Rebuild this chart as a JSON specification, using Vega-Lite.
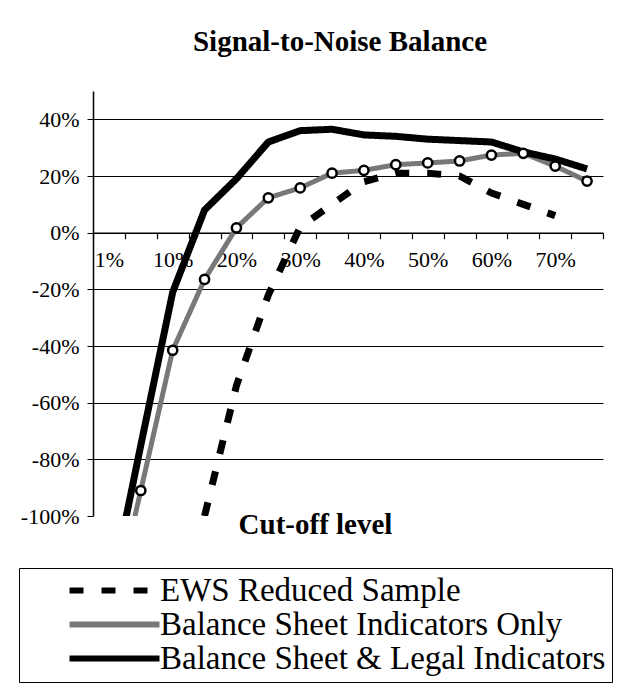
{
  "$schema": "https://vega.github.io/schema/vega-lite/v6.json",
  "width": 510,
  "height": 425,
  "autosize": {"type": "none"},
  "padding": {"left": 93, "top": 91, "right": 18, "bottom": 167},
  "background": "white",
  "config": {
    "font": "Liberation Serif",
    "view": {"stroke": null}
  },
  "title": {
    "text": "Signal-to-Noise Balance",
    "font": "Liberation Serif",
    "fontSize": 29,
    "fontWeight": "bold",
    "color": "black",
    "anchor": "middle",
    "frame": "group",
    "baseline": "alphabetic",
    "offset": 11,
    "dx": -8
  },
  "data": {
    "values": [
      {"cut": 15, "series": "EWS Reduced Sample", "value": -100},
      {"cut": 20, "series": "EWS Reduced Sample", "value": -54},
      {"cut": 25, "series": "EWS Reduced Sample", "value": -22},
      {"cut": 30, "series": "EWS Reduced Sample", "value": 2},
      {"cut": 35, "series": "EWS Reduced Sample", "value": 10},
      {"cut": 40, "series": "EWS Reduced Sample", "value": 18},
      {"cut": 45, "series": "EWS Reduced Sample", "value": 21},
      {"cut": 50, "series": "EWS Reduced Sample", "value": 21},
      {"cut": 55, "series": "EWS Reduced Sample", "value": 20},
      {"cut": 60, "series": "EWS Reduced Sample", "value": 14},
      {"cut": 65, "series": "EWS Reduced Sample", "value": 10},
      {"cut": 70, "series": "EWS Reduced Sample", "value": 6},
      {"cut": 1, "series": "Balance Sheet Indicators Only", "value": -140},
      {"cut": 5, "series": "Balance Sheet Indicators Only", "value": -91},
      {"cut": 10, "series": "Balance Sheet Indicators Only", "value": -41.5},
      {"cut": 15, "series": "Balance Sheet Indicators Only", "value": -16.5},
      {"cut": 20, "series": "Balance Sheet Indicators Only", "value": 1.7},
      {"cut": 25, "series": "Balance Sheet Indicators Only", "value": 12.3},
      {"cut": 30, "series": "Balance Sheet Indicators Only", "value": 15.8},
      {"cut": 35, "series": "Balance Sheet Indicators Only", "value": 21},
      {"cut": 40, "series": "Balance Sheet Indicators Only", "value": 22},
      {"cut": 45, "series": "Balance Sheet Indicators Only", "value": 24},
      {"cut": 50, "series": "Balance Sheet Indicators Only", "value": 24.6},
      {"cut": 55, "series": "Balance Sheet Indicators Only", "value": 25.3},
      {"cut": 60, "series": "Balance Sheet Indicators Only", "value": 27.4},
      {"cut": 65, "series": "Balance Sheet Indicators Only", "value": 28},
      {"cut": 70, "series": "Balance Sheet Indicators Only", "value": 23.5},
      {"cut": 75, "series": "Balance Sheet Indicators Only", "value": 18.2},
      {"cut": 1, "series": "Balance Sheet & Legal Indicators", "value": -130},
      {"cut": 5, "series": "Balance Sheet & Legal Indicators", "value": -75},
      {"cut": 10, "series": "Balance Sheet & Legal Indicators", "value": -21},
      {"cut": 15, "series": "Balance Sheet & Legal Indicators", "value": 8},
      {"cut": 20, "series": "Balance Sheet & Legal Indicators", "value": 19},
      {"cut": 25, "series": "Balance Sheet & Legal Indicators", "value": 32},
      {"cut": 30, "series": "Balance Sheet & Legal Indicators", "value": 36},
      {"cut": 35, "series": "Balance Sheet & Legal Indicators", "value": 36.5},
      {"cut": 40, "series": "Balance Sheet & Legal Indicators", "value": 34.5},
      {"cut": 45, "series": "Balance Sheet & Legal Indicators", "value": 34},
      {"cut": 50, "series": "Balance Sheet & Legal Indicators", "value": 33},
      {"cut": 55, "series": "Balance Sheet & Legal Indicators", "value": 32.5},
      {"cut": 60, "series": "Balance Sheet & Legal Indicators", "value": 32},
      {"cut": 65, "series": "Balance Sheet & Legal Indicators", "value": 28.5},
      {"cut": 70, "series": "Balance Sheet & Legal Indicators", "value": 26},
      {"cut": 75, "series": "Balance Sheet & Legal Indicators", "value": 22.5}
    ]
  },
  "encoding": {
    "x": {
      "field": "cut",
      "type": "ordinal",
      "scale": {"type": "band", "paddingInner": 0, "paddingOuter": 0, "domain": [1,5,10,15,20,25,30,35,40,45,50,55,60,65,70,75]},
      "axis": {
        "orient": "bottom",
        "offset": -283.3,
        "grid": false,
        "domain": true,
        "domainColor": "black",
        "domainWidth": 1.5,
        "tickBand": "extent",
        "tickExtra": true,
        "tickColor": "black",
        "tickSize": 6,
        "tickWidth": 1.2,
        "labelAngle": 0,
        "labelFont": "Liberation Serif",
        "labelFontSize": 22,
        "labelColor": "black",
        "labelPadding": 11,
        "labelExpr": "(datum.value == 1 || datum.value % 10 == 0) ? datum.value + '%' : ''",
        "title": "Cut-off level",
        "titleFont": "Liberation Serif",
        "titleFontSize": 29,
        "titleFontWeight": "bold",
        "titleColor": "black",
        "titleBaseline": "middle",
        "titleAlign": "center",
        "titleX": 222,
        "titleY": 292
      }
    },
    "y": {
      "field": "value",
      "type": "quantitative",
      "scale": {"domain": [-100, 50], "nice": false, "zero": false},
      "axis": {
        "values": [-100, -80, -60, -40, -20, 0, 20, 40],
        "grid": true,
        "gridColor": {"condition": {"test": "datum.value == -100 || datum.value == 0", "value": "transparent"}, "value": "black"},
        "gridWidth": 1,
        "gridOpacity": 1,
        "domainColor": "black",
        "domainWidth": 1.5,
        "tickColor": "black",
        "tickSize": 6,
        "labelFont": "Liberation Serif",
        "labelFontSize": 22,
        "labelColor": "black",
        "labelPadding": 8,
        "labelExpr": "datum.value + '%'",
        "title": null
      }
    }
  },
  "layer": [
    {
      "mark": {"type": "line", "clip": true, "strokeCap": "butt", "strokeJoin": "round"},
      "encoding": {
        "color": {
          "field": "series",
          "type": "nominal",
          "scale": {
            "domain": ["EWS Reduced Sample", "Balance Sheet Indicators Only", "Balance Sheet & Legal Indicators"],
            "range": ["black", "#787878", "black"]
          },
          "legend": {
            "title": null,
            "orient": "none",
            "legendX": -74,
            "legendY": 477,
            "direction": "vertical",
            "padding": 6,
            "strokeColor": "black",
            "fillColor": "white",
            "symbolType": "M-9,0H9",
            "symbolSize": 100,
            "symbolOffset": 73,
            "symbolStrokeWidth": 6,
            "labelFont": "Liberation Serif",
            "labelFontSize": 33,
            "labelColor": "black",
            "labelOffset": 29,
            "labelLimit": 0,
            "rowPadding": 0
          }
        },
        "strokeDash": {
          "field": "series",
          "type": "nominal",
          "scale": {
            "domain": ["EWS Reduced Sample", "Balance Sheet Indicators Only", "Balance Sheet & Legal Indicators"],
            "range": [[14, 18], [1, 0], [1, 0]]
          },
          "legend": null
        },
        "strokeWidth": {
          "condition": {"test": "datum.series == 'Balance Sheet Indicators Only'", "value": 5},
          "value": 7
        }
      }
    },
    {
      "transform": [{"filter": "datum.series == 'Balance Sheet Indicators Only'"}],
      "mark": {"type": "point", "clip": true, "filled": true, "fill": "white", "stroke": "black", "strokeWidth": 2.5, "size": 85, "opacity": 1}
    }
  ]
}
